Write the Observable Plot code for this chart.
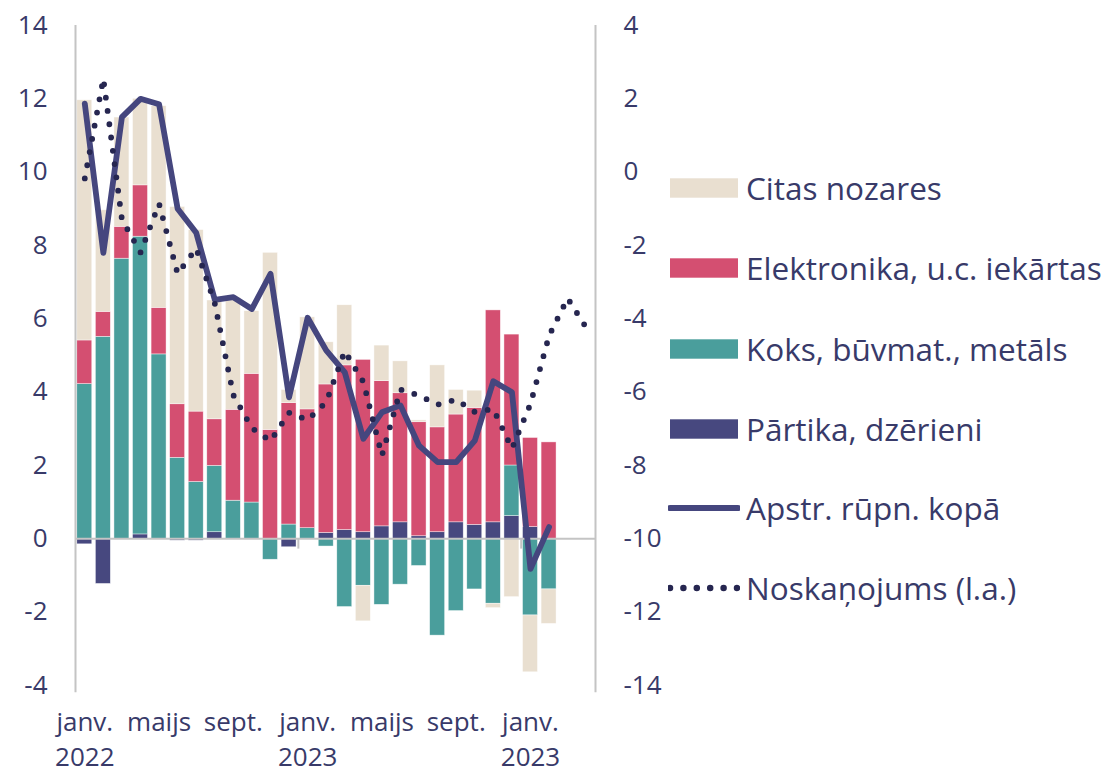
<!DOCTYPE html>
<html><head><meta charset="utf-8">
<script src="https://cdn.jsdelivr.net/npm/d3@7"></script>
<script src="https://cdn.jsdelivr.net/npm/@observablehq/plot@0.6"></script>
<style>
body{margin:0;background:#fff;font-family:"Open Sans",sans-serif;}
#wrap{position:relative;width:1112px;height:772px;}
.item{position:absolute;left:668px;height:40px;display:flex;align-items:center;font-size:31.5px;color:#383a69;white-space:nowrap;line-height:1;}
.item svg{margin-right:6px;flex:none;}
</style></head><body><div id="wrap"></div>
<script>
// Months (bars run to 2024-02; sentiment line runs to 2024-04)
const months = ["2022-01","2022-02","2022-03","2022-04","2022-05","2022-06","2022-07","2022-08","2022-09","2022-10","2022-11","2022-12",
                "2023-01","2023-02","2023-03","2023-04","2023-05","2023-06","2023-07","2023-08","2023-09","2023-10","2023-11","2023-12",
                "2024-01","2024-02","2024-03","2024-04"];
const barMonths = months.slice(0, 26);

// Contributions (left axis, percentage points)
const partika = [-0.15,-1.23,0,0.12,0,-0.05,-0.05,0.18,0,0,0,-0.23,0,0.16,0.24,0.18,0.34,0.45,0.07,0.18,0.45,0.38,0.45,0.62,0.32,0];
const koks    = [4.22,5.51,7.64,8.12,5.03,2.21,1.55,1.81,1.04,0.99,-0.57,0.39,0.29,-0.21,-1.86,-1.28,-1.8,-1.25,-0.74,-2.64,-1.97,-1.38,-1.77,1.38,-2.09,-1.38];
const elek    = [1.19,0.68,0.87,1.40,1.27,1.46,1.92,1.27,2.48,3.51,2.97,3.31,3.24,4.05,4.49,4.70,3.96,3.52,3.11,2.86,2.94,3.19,5.78,3.57,2.43,2.63];
const citas   = [6.55,2.77,2.98,2.36,5.5,5.38,4.95,3.24,3.05,1.71,4.83,0.36,2.51,1.15,1.64,-0.97,0.97,0.87,0.05,1.69,0.67,0.47,-0.12,-1.59,-1.55,-0.94];

// Total manufacturing (left axis)
const kopa = [11.87,7.8,11.5,12.0,11.85,9.0,8.35,6.52,6.59,6.27,7.23,3.86,6.03,5.14,4.54,2.73,3.45,3.64,2.54,2.09,2.09,2.68,4.3,4.0,-0.82,0.32];

// Sentiment (right axis)
const noskanojums = [-0.17,2.55,-1.29,-2.19,-0.86,-2.77,-2.08,-3.58,-6.08,-6.98,-7.33,-6.56,-6.76,-6.27,-4.88,-5.72,-7.73,-5.93,-6.09,-6.34,-6.2,-6.54,-6.46,-7.54,-6.32,-4.46,-3.44,-4.24];

// Series names and colours
const seriesNames  = ["Pārtika, dzērieni","Koks, būvmat., metāls","Elektronika, u.c. iekārtas","Citas nozares"];
const seriesColors = ["#47487f","#4a9e9c","#d44f71","#e9dfd0"];
const lineName = "Apstr. rūpn. kopā";
const dotName = "Noskaņojums (l.a.)";

// Axis ticks
const leftTicks = [14,12,10,8,6,4,2,0,-2,-4];
const rightTickLabels = ["4","2","0","-2","-4","-6","-8","-10","-12","-14"];
const rightOffset = 10; // right axis = left axis - 10
const xTickMonths = ["2022-01","2022-05","2022-09","2023-01","2023-05","2023-09","2024-01"];
const xTickLabels = ["janv.\n2022","maijs","sept.","janv.\n2023","maijs","sept.","janv.\n2023"];
const yearStarts = ["2023-01","2024-01"];

// Build tables
const seriesArrays = [partika, koks, elek, citas];
const bars = [];
seriesArrays.forEach((arr, s) => arr.forEach((v, i) => bars.push({month: barMonths[i], cat: seriesNames[s], value: v})));
const total = kopa.map((v, i) => ({month: barMonths[i], value: v}));
const sent = noskanojums.map((v, i) => ({month: months[i], value: v}));

const W = 1112, H = 772, mL = 75, mR = 517, mT = 25, mB = 87;
const step = (W - mL - mR) / months.length;
const gray = "#c4c4c4", textColor = "#383a69";

const chart = Plot.plot({
  width: W, height: H,
  marginLeft: mL, marginRight: mR, marginTop: mT, marginBottom: mB,
  style: {fontFamily: "Open Sans", color: textColor, background: "transparent"},
  x: {type: "band", domain: months, padding: 0, round: false},
  y: {domain: [-4, 14]},
  color: {domain: seriesNames, range: seriesColors},
  marks: [
    Plot.barY(bars, Plot.stackY({x: "month", y: "value", z: "cat", fill: "cat", order: null,
      insetLeft: 1.8, insetRight: 1.8, stroke: "white", strokeWidth: 0.6, strokeOpacity: 0.7})),
    Plot.ruleY([0], {stroke: gray, strokeWidth: 2}),
    Plot.ruleX(yearStarts, {x: d => d, y1: 0, y2: -0.28, dx: -step / 2, stroke: gray, strokeWidth: 2}),
    Plot.ruleX([months[0]], {x: d => d, y1: 14, y2: -4.2, dx: -step / 2, stroke: gray, strokeWidth: 2}),
    Plot.ruleX([months[months.length - 1]], {x: d => d, y1: 14, y2: -4.2, dx: step / 2, stroke: gray, strokeWidth: 2}),
    Plot.axisY({anchor: "left", ticks: leftTicks, tickSize: 0, tickPadding: 28, fontSize: 26, tickFormat: d => String(d), label: null}),
    Plot.axisY({anchor: "right", ticks: leftTicks, tickSize: 0, tickPadding: 28, fontSize: 26, textAnchor: "start",
      tickFormat: d => rightTickLabels[leftTicks.indexOf(d)], label: null}),
    Plot.axisX({ticks: xTickMonths, tickSize: 0, tickPadding: 20, fontSize: 26, lineHeight: 1.37,
      tickFormat: d => xTickLabels[xTickMonths.indexOf(d)], label: null}),
    Plot.line(total, {x: "month", y: "value", stroke: "#45467e", strokeWidth: 5.8, strokeLinejoin: "round", strokeLinecap: "round"}),
    Plot.line(sent, {x: "month", y: d => d.value + rightOffset, stroke: "#262650", strokeWidth: 5.8,
      strokeDasharray: "0 13.4", strokeLinecap: "round"})
  ]
});
const wrap = document.getElementById("wrap");
wrap.appendChild(chart);

// Legend
const legendItems = [
  {name: seriesNames[3], kind: "rect", color: seriesColors[3]},
  {name: seriesNames[2], kind: "rect", color: seriesColors[2]},
  {name: seriesNames[1], kind: "rect", color: seriesColors[1]},
  {name: seriesNames[0], kind: "rect", color: seriesColors[0]},
  {name: lineName, kind: "line", color: "#45467e"},
  {name: dotName, kind: "dot", color: "#262650"}
];
const rowY = [188, 268, 349, 429, 508, 588];
legendItems.forEach((it, k) => {
  const div = document.createElement("div");
  div.className = "item";
  div.style.top = (rowY[k] - 20) + "px";
  let sw;
  if (it.kind === "rect") sw = `<rect x="2" y="10.3" width="68" height="19.4" fill="${it.color}"/>`;
  else if (it.kind === "line") sw = `<line x1="2" x2="70" y1="20" y2="20" stroke="${it.color}" stroke-width="6" stroke-linecap="round"/>`;
  else sw = `<line x1="2" x2="70" y1="20" y2="20" stroke="${it.color}" stroke-width="6.5" stroke-linecap="round" stroke-dasharray="0 13.4"/>`;
  div.innerHTML = `<svg width="72" height="40">${sw}</svg><span>${it.name}</span>`;
  wrap.appendChild(div);
});
</script></body></html>
